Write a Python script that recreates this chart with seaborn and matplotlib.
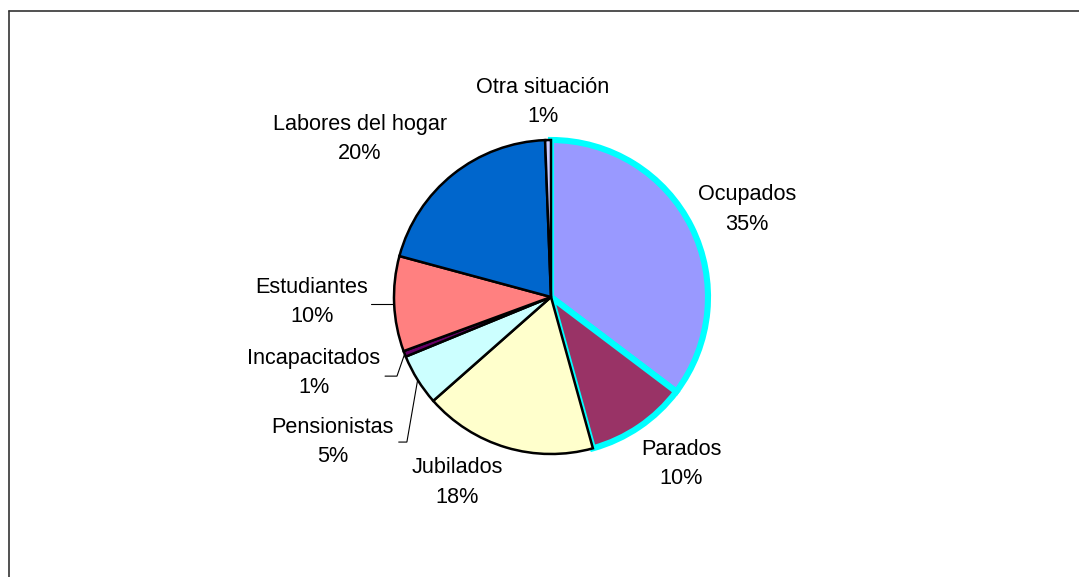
import numpy as np
import matplotlib
matplotlib.use("Agg")
import matplotlib.pyplot as plt
import seaborn as sns
from matplotlib.lines import Line2D

sns.set_theme(style="white")
plt.rcParams['font.family'] = ['Liberation Sans', 'DejaVu Sans']

# Data (share of population by situation, %)
categories = ['Ocupados', 'Parados', 'Jubilados', 'Pensionistas',
              'Incapacitados', 'Estudiantes', 'Labores del hogar', 'Otra situación']
shares = [35.3, 10.4, 17.8, 5.3, 0.6, 9.8, 20.2, 0.6]

# Excel-like fill colours
colors = ['#9999FF', '#993366', '#FFFFCC', '#CCFFFF',
          '#660066', '#FF8080', '#0066CC', '#CCCCFF']
edge_colors = ['#00FFFF', '#00FFFF', 'black', 'black', 'black', 'black', 'black', 'black']
edge_widths = [4.4, 4.4, 1.8, 1.8, 1.8, 1.8, 1.8, 1.8]

# label centres in pie-radius units
label_pos = [(1.248, 0.557), (0.828, -1.064), (-0.599, -1.182), (-1.389, -0.924),
             (-1.510, -0.484), (-1.522, -0.032), (-1.217, 1.006), (-0.051, 1.243)]
# labels with leader lines: (start x, elbow x, y offset) in radius units
leaders = {3: (-0.970, -0.918, 0.0), 4: (-1.057, -0.981, -0.02), 5: (-1.146, -1.146, None)}

W, H = 1079, 577
R = 157.0
cx, cy = 551, 297

fig = plt.figure(figsize=(W / 100, H / 100), dpi=100)
ax = fig.add_axes([0, 0, 1, 1])

wedges, _ = ax.pie(shares, colors=colors, startangle=90, counterclock=False,
                   radius=1.0, center=(0, 0))
for w, ec, lw in zip(wedges, edge_colors, edge_widths):
    w.set_edgecolor(ec)
    w.set_linewidth(lw)
    w.set_joinstyle('miter')

for i, (name, val) in enumerate(zip(categories, shares)):
    lx, ly = label_pos[i]
    ax.text(lx, ly, f"{name}\n{round(val)}%", ha='center', va='center',
            multialignment='center', fontsize=15.6, color='black', linespacing=1.52)
    if i in leaders:
        w = wedges[i]
        mid = np.deg2rad((w.theta1 + w.theta2) / 2)
        rx, ry = np.cos(mid), np.sin(mid)
        sx, ex, dy = leaders[i]
        sy = ry if dy is None else ly + dy
        ax.plot([sx, ex, rx], [sy, sy, ry], color='black', lw=0.8,
                solid_joinstyle='miter')

ax.set_xlim(-cx / R, (W - cx) / R)
ax.set_ylim(-(H - cy) / R, cy / R)
ax.set_aspect('auto')
ax.axis('off')

# chart-area frame (extends past the right and bottom edges)
x0 = 8.5 / W
y0 = 1 - 10.5 / H
fig.add_artist(Line2D([x0, x0], [0, y0], transform=fig.transFigure, color='#333333', lw=1.2))
fig.add_artist(Line2D([x0, 1], [y0, y0], transform=fig.transFigure, color='#333333', lw=1.2))

fig.savefig('out.png', dpi=100, facecolor='white')
